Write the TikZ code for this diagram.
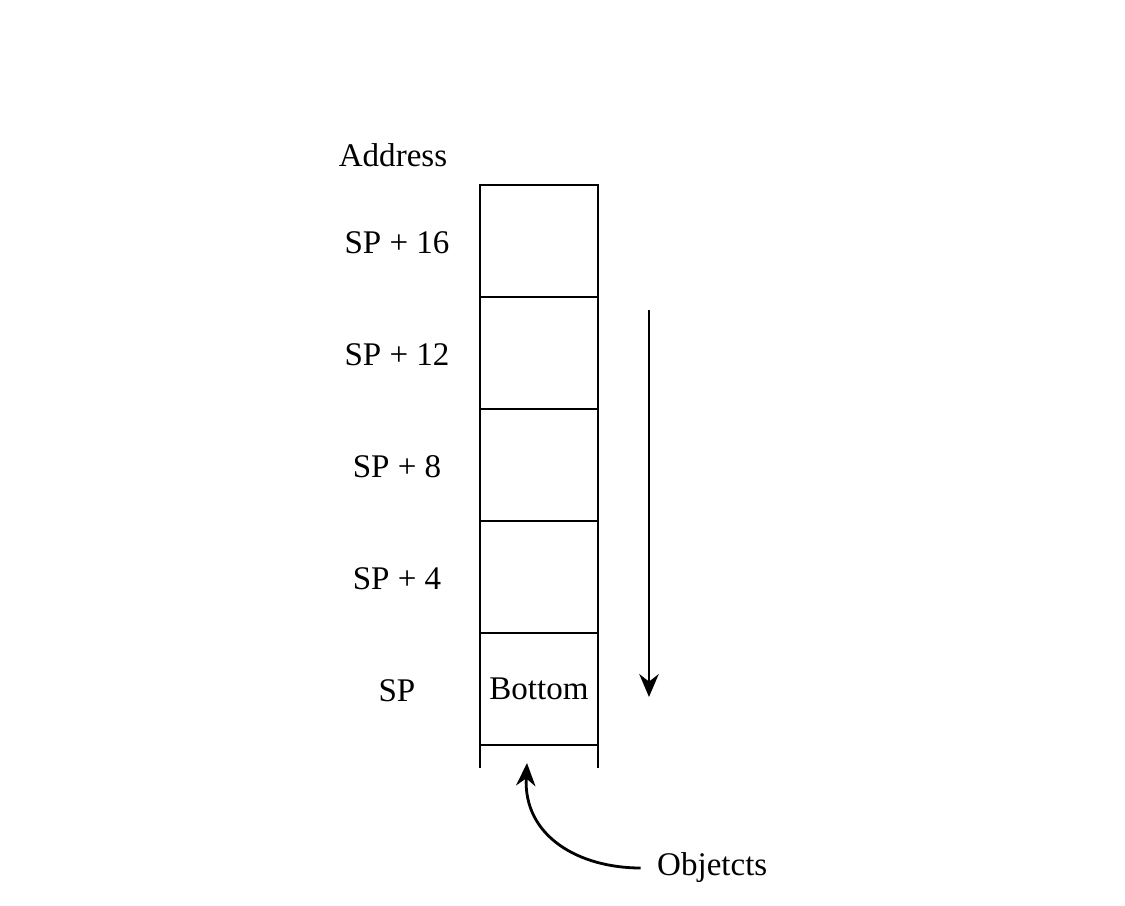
\documentclass[tikz,border=0pt]{standalone}
\usepackage{fontspec}
\setmainfont{Liberation Serif}
\usepackage{tikz}
\usetikzlibrary{arrows.meta,positioning,calc}

\begin{document}
\begin{tikzpicture}[
    node distance=0cm,
    cell/.style={rectangle, draw=black, line width=0.8pt, minimum width=1.18cm, minimum height=1.12cm, inner sep=0pt, outer sep=0pt, font=\fontsize{9.4}{11}\selectfont},
    addr/.style={font=\fontsize{9.4}{11}\selectfont, inner sep=1pt},
    arrow/.style={-{Stealth[length=6.5pt,width=5.5pt]}, line width=0.8pt},
]
\useasboundingbox (0,0) rectangle (11.25,9.05);

% Stack cells
\node[cell] (c16) at (5.39,6.64) {};
\node[cell, below=of c16] (c12) {};
\node[cell, below=of c12] (c8) {};
\node[cell, below=of c8] (c4) {};
\node[cell, below=of c4] (c0) {Bottom};

% Open end below the stack
\coordinate[below=0.23cm of c0.south west] (lw);
\coordinate[below=0.23cm of c0.south east] (le);
\draw[line width=0.8pt] (c0.south west) -- (lw);
\draw[line width=0.8pt] (c0.south east) -- (le);

% Address labels
\coordinate (labx) at (3.97,0);
\node[addr] (head) at (3.93,7.50) {Address};
\node[addr] (a16) at ($(labx |- c16)+(0,-0.02)$) {SP + 16};
\node[addr] (a12) at ($(labx |- c12)+(0,-0.02)$) {SP + 12};
\node[addr] (a8) at ($(labx |- c8)+(0,-0.02)$) {SP + 8};
\node[addr] (a4) at ($(labx |- c4)+(0,-0.02)$) {SP + 4};
\node[addr] (a0) at ($(labx |- c0)+(0,-0.02)$) {SP};

% Growth direction
\coordinate (gtop) at (6.49,5.95);
\coordinate (gbot) at (6.49,2.08);
\draw[arrow] (gtop) -- (gbot);

% Objects pointer
\node[addr, anchor=west] (obj) at (6.53,0.37) {Objetcts};
\coordinate (tip) at (5.27,1.42);
\draw[arrow, shorten <=3.5pt] (obj.west) to[out=180, in=-93, looseness=1.15] (tip);

\end{tikzpicture}
\end{document}
